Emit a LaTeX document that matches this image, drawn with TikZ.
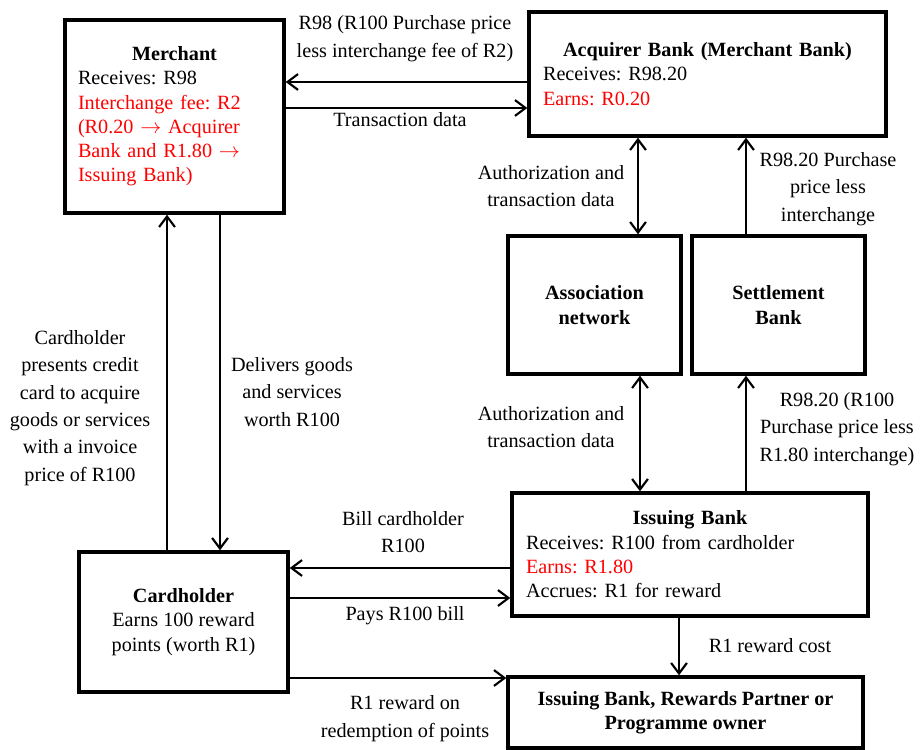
\documentclass[tikz,border=0pt]{standalone}
\usepackage{fontspec}
\setmainfont{Liberation Serif}
\usetikzlibrary{arrows.meta}
\frenchspacing
\tikzset{
  box/.style={draw, line width=2pt, inner sep=0pt, font=\fontsize{11.5}{13.8}\selectfont},
  lbl/.style={align=center, inner sep=0pt, font=\fontsize{11.5}{15.6}\selectfont},
  arr/.style={line width=1.2pt, -{Straight Barb[length=6pt,width=9pt]}},
  dbl/.style={line width=1.2pt, {Straight Barb[length=6pt,width=9pt]}-{Straight Barb[length=6pt,width=9pt]}},
}
\begin{document}
\begin{tikzpicture}[x=0.02cm,y=-0.02cm]
  \useasboundingbox (0,0) rectangle (921,750);
  % boxes
  \node[box, minimum width=4.38cm, minimum height=3.86cm, text width=3.86cm, align=left] (mer) at (174.5,116.5)
    {\makebox[\linewidth]{\textbf{Merchant}}\\Receives: R98\\\color{red}Interchange fee: R2\\(R0.20 $\rightarrow$ Acquirer\\Bank and R1.80 $\rightarrow$\\Issuing Bank)};
  \node[box, minimum width=7.14cm, minimum height=2.48cm, text width=6.58cm, align=left] (acq) at (707.5,74)
    {\makebox[\linewidth]{\textbf{Acquirer Bank (Merchant Bank)}}\\Receives: R98.20\\{\color{red}Earns: R0.20}\\[2pt]};
  \node[box, minimum width=3.46cm, minimum height=2.76cm, align=center] (asn) at (594.5,305) {\textbf{Association}\\\textbf{network}};
  \node[box, minimum width=3.46cm, minimum height=2.76cm, align=center] (stl) at (778.5,305) {\textbf{Settlement}\\\textbf{Bank}};
  \node[box, minimum width=7.12cm, minimum height=2.46cm, text width=6.56cm, align=left] (iss) at (690,554.5)
    {\makebox[\linewidth]{\textbf{Issuing Bank}}\\Receives: R100 from cardholder\\{\color{red}Earns: R1.80}\\Accrues: R1 for reward\\[2pt]};
  \node[box, minimum width=4.18cm, minimum height=2.8cm, align=center] (crd) at (183.5,622)
    {\textbf{Cardholder}\\Earns 100 reward\\points (worth R1)};
  \node[box, minimum width=7.1cm, minimum height=1.42cm, align=center] (rwd) at (685.5,712.5)
    {\textbf{Issuing Bank, Rewards Partner or}\\\textbf{Programme owner}};
  % connectors
  \draw[arr] (acq.west |- 0,82) -- (mer.east |- 0,82);
  \draw[arr] (mer.east |- 0,108) -- (acq.west |- 0,108);
  \draw[dbl] (acq.south -| 638,0) -- (asn.north -| 638,0);
  \draw[arr] (stl.north -| 746,0) -- (acq.south -| 746,0);
  \draw[dbl] (iss.north -| 640,0) -- (asn.south -| 640,0);
  \draw[arr] (iss.north -| 746,0) -- (stl.south -| 746,0);
  \draw[arr] (crd.north -| 167,0) -- (mer.south -| 167,0);
  \draw[arr] (mer.south -| 220,0) -- (crd.north -| 220,0);
  \draw[arr] (iss.west |- 0,568) -- (crd.east |- 0,568);
  \draw[arr] (crd.east |- 0,598) -- (iss.west |- 0,598);
  \draw[arr] (crd.east |- 0,678) -- (rwd.west |- 0,678);
  \draw[arr] (iss.south -| 679,0) -- (rwd.north -| 679,0);
  % labels
  \node[lbl] (lprice) at (405,38.5) {R98 (R100 Purchase price\\less interchange fee of R2)};
  \node[lbl] (ltxn) at (400,120) {Transaction data};
  \node[lbl] (lauthA) at (551,186) {Authorization and\\transaction data};
  \node[lbl] (lsetA) at (828,189) {R98.20 Purchase\\price less\\interchange};
  \node[lbl] (lauthB) at (551,427) {Authorization and\\transaction data};
  \node[lbl] (lsetB) at (837,429) {R98.20 (R100\\Purchase price less\\R1.80 interchange)};
  \node[lbl] (lpres) at (80,408) {Cardholder\\presents credit\\card to acquire\\goods or services\\with a invoice\\price of R100};
  \node[lbl] (ldeliv) at (292,392) {Delivers goods\\and services\\worth R100};
  \node[lbl] (lbill) at (403,532) {Bill cardholder\\R100};
  \node[lbl] (lpays) at (405,616) {Pays R100 bill};
  \node[lbl] (lredeem) at (405,718.5) {R1 reward on\\redemption of points};
  \node[lbl] (lcost) at (770,646) {R1 reward cost};
\end{tikzpicture}
\end{document}
